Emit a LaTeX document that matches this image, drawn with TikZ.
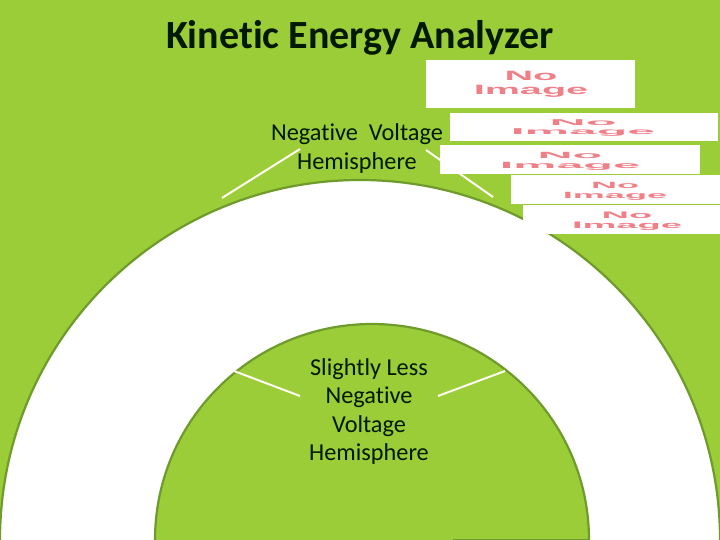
\documentclass[tikz,border=0pt]{standalone}
\usepackage{fontspec}
\setmainfont[Ligatures=CommonOff]{Carlito}
\newfontfamily\noimg{Liberation Sans}
\definecolor{bggreen}{HTML}{9ACD37}
\definecolor{edgegreen}{HTML}{6F9A2C}
\definecolor{noimgpink}{HTML}{F08088}
\tikzset{
  x=1pt,y=-1pt,
  hemi/.style={draw=edgegreen,line width=2.2pt},
  leader/.style={draw=white!95!yellow,line width=2pt},
  lbl/.style={align=center,text=black!90!green,font=\fontsize{24.3}{28.4}\selectfont,inner sep=0pt},
  imgbox/.style={fill=white,draw=none,anchor=north west,inner sep=0pt,outer sep=0pt},
  noimage/.style={text=noimgpink,font=\noimg\bfseries\fontsize{10}{10.6}\selectfont,align=center,inner sep=0pt},
}
\begin{document}
\begin{tikzpicture}
\useasboundingbox (0,0) rectangle (720,540);
\fill[bggreen] (0,0) rectangle (720,540);
% hemispheres
\path[fill=white,hemi] (0,540) arc[start angle=180,end angle=0,x radius=360,y radius=-360];
\path[fill=bggreen,hemi] (155,540) arc[start angle=180,end angle=0,x radius=217,y radius=-216];
\coordinate (base1) at (453,539.5); \coordinate (base2) at (589,539.5);
\draw[edgegreen,line width=1pt] (base1) -- (base2);
% leaders
\coordinate (a1) at (300,149); \coordinate (a2) at (222,198);
\coordinate (b1) at (426,150); \coordinate (b2) at (493,197);
\coordinate (c1) at (234,371); \coordinate (c2) at (300,396);
\coordinate (d1) at (505,371); \coordinate (d2) at (438,396);
\draw[leader] (a1) -- (a2);
\draw[leader] (b1) -- (b2);
\draw[leader] (c1) -- (c2);
\draw[leader] (d1) -- (d2);
% labels
\node[lbl] (title) at (360,37.5) {\fontsize{40}{44}\selectfont\bfseries Kinetic Energy Analyzer};
\node[lbl] (neg) at (357,148.5) {Negative\ \ Voltage\\Hemisphere};
\node[lbl] (less) at (369,411.5) {Slightly Less\\Negative\\Voltage\\Hemisphere};
% image placeholders
\node[imgbox,minimum width=209pt,minimum height=48pt] (i1) at (426,60) {};
\node[noimage,xscale=3.96,yscale=1.35] (t1) at (531,84) {No\\Image};
\node[imgbox,minimum width=268pt,minimum height=28pt] (i2) at (450,113) {};
\node[noimage,xscale=5,yscale=.85] (t2) at (583,128) {No\\Image};
\node[imgbox,minimum width=260pt,minimum height=29pt] (i3) at (440,145) {};
\node[noimage,xscale=4.85,yscale=.9] (t3) at (570,161.5) {No\\Image};
\node[imgbox,minimum width=209pt,minimum height=29pt] (i4) at (511,175) {};
\node[noimage,xscale=3.6,yscale=.9] (t4) at (615,191.5) {No\\Image};
\node[imgbox,minimum width=197pt,minimum height=29pt] (i5) at (523,205) {};
\node[noimage,xscale=3.8,yscale=.95] (t5) at (627,221) {No\\Image};
\end{tikzpicture}
\end{document}
